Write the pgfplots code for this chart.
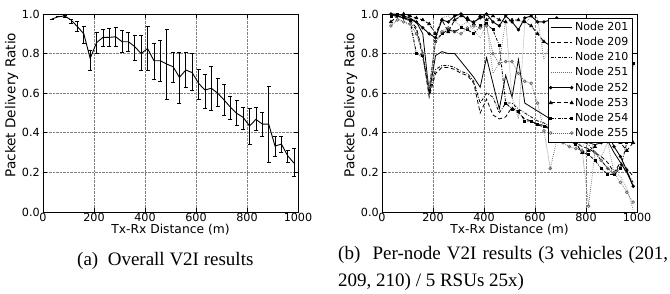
\documentclass[border=0pt]{standalone}
\usepackage{fontspec}
\setmainfont{DejaVu Sans}
\newfontfamily\capfont{Liberation Serif}
\usepackage{pgfplots}
\pgfplotsset{compat=1.18}
\usepackage{pgfplotstable}

\pgfplotstableread{
x y ep em
35 0.975 0 0
60 0.986 0 0
85 0.990 0.005 0.005
110 0.970 0.005 0.020
135 0.936 0.025 0.025
160 0.900 0.036 0.048
185 0.776 0.042 0.059
210 0.855 0.051 0.054
235 0.882 0.040 0.044
260 0.882 0.046 0.044
285 0.885 0.048 0.050
310 0.860 0.056 0.055
335 0.860 0.046 0.050
360 0.835 0.059 0.071
385 0.800 0.094 0.086
410 0.826 0.113 0.112
435 0.764 0.088 0.094
460 0.764 0.105 0.106
485 0.747 0.175 0.178
510 0.734 0.071 0.081
535 0.680 0.125 0.131
560 0.717 0.088 0.087
585 0.704 0.097 0.088
610 0.650 0.070 0.081
635 0.616 0.081 0.092
660 0.625 0.112 0.113
685 0.600 0.075 0.065
710 0.566 0.080 0.076
735 0.529 0.057 0.061
760 0.498 0.068 0.059
785 0.478 0.051 0.061
810 0.434 0.090 0.091
835 0.468 0.061 0.057
860 0.444 0.058 0.060
885 0.444 0.192 0.195
910 0.333 0.051 0.050
935 0.343 0.041 0.043
960 0.283 0.030 0.034
985 0.246 0.076 0.064
}\overall

\pgfplotstableread{
x n201 n209 n210 n251 n252 n253 n254 n255
35 1.00 1.00 1.00 1.00 1.00 0.96 0.99 0.94
60 1.00 0.99 0.99 0.98 0.99 0.99 1.00 0.97
85 0.99 0.98 0.98 0.96 0.98 1.00 0.99 0.96
110 0.98 0.97 0.96 0.94 0.97 0.99 0.97 0.95
135 0.96 0.93 0.92 0.80 0.96 0.98 0.80 0.90
160 0.90 0.80 0.78 0.78 0.93 0.97 0.79 0.80
185 0.60 0.58 0.60 0.62 0.90 0.95 0.62 0.63
210 0.79 0.70 0.72 0.88 0.88 0.90 0.86 0.86
235 0.81 0.73 0.74 0.98 0.97 0.97 0.90 0.91
260 0.80 0.73 0.74 0.99 0.96 0.91 0.92 0.93
285 0.80 0.72 0.73 0.96 0.99 0.97 0.91 0.91
310 0.76 0.70 0.71 0.94 1.00 0.99 0.93 0.90
335 0.72 0.69 0.70 0.96 0.97 0.98 0.92 0.93
360 0.68 0.65 0.66 0.92 0.96 0.95 0.90 0.94
385 0.63 0.50 0.55 0.88 0.98 0.99 0.94 0.93
410 0.78 0.57 0.60 0.95 1.00 0.97 0.95 0.94
435 0.65 0.49 0.58 0.70 0.96 0.99 0.92 0.80
460 0.52 0.47 0.50 0.75 0.94 0.97 0.84 0.75
485 0.69 0.48 0.55 0.97 0.99 0.96 0.55 0.76
510 0.58 0.53 0.55 0.58 0.96 0.97 0.52 0.76
535 0.77 0.50 0.52 0.47 0.92 0.97 0.51 0.70
560 0.55 0.47 0.50 0.95 0.98 0.96 0.46 0.66
585 0.53 0.46 0.48 0.99 0.99 0.94 0.46 0.65
610 0.51 0.44 0.46 0.98 0.96 0.90 0.44 0.55
635 0.49 0.44 0.45 0.77 0.96 0.86 0.43 0.41
660 0.47 0.42 0.43 0.85 0.97 0.84 0.42 0.22
685 0.45 0.40 0.42 0.70 0.98 0.75 0.40 0.36
710 0.43 0.38 0.40 0.60 0.90 0.60 0.38 0.35
735 0.41 0.37 0.38 0.50 0.80 0.45 0.36 0.33
760 0.39 0.35 0.37 0.40 0.65 0.35 0.34 0.32
785 0.37 0.33 0.36 0.32 0.50 0.30 0.30 0.31
810 0.35 0.32 0.34 0.40 0.42 0.31 0.29 0.03
835 0.34 0.30 0.30 0.30 0.36 0.33 0.26 0.30
860 0.35 0.28 0.26 0.28 0.35 0.40 0.22 0.26
885 0.36 0.25 0.22 0.35 0.40 0.45 0.19 0.22
910 0.30 0.20 0.19 0.20 0.33 0.36 0.19 0.20
935 0.25 0.25 0.24 0.18 0.28 0.35 0.22 0.15
960 0.20 0.22 0.20 0.12 0.21 0.31 0.35 0.10
985 0.13 0.18 0.15 0.01 0.13 0.35 0.75 0.05
}\pernode

\pgfplotsset{
  pdrstyle/.style={
    scale only axis, width=255bp, height=198bp,
    xmin=0, xmax=1000, ymin=0, ymax=1,
    xtick={0,200,400,600,800,1000},
    ytick={0,0.2,0.4,0.6,0.8,1.0},
    grid=major,
    grid style={densely dotted, black!50, line width=0.6bp},
    axis line style={line width=0.9bp},
    tick style={line width=0.7bp, black},
    major tick length=4bp,
    tick align=inside,
    /pgf/number format/assume math mode=true,
    tick label style={font=\fontsize{11.2bp}{13bp}\selectfont, inner sep=0pt},
    yticklabel style={/pgf/number format/.cd, fixed, fixed zerofill, precision=1, /tikz/.cd, anchor=east, xshift=-3bp},
    xticklabel style={/pgf/number format/1000 sep={}, anchor=base, yshift=-9.5bp},
    xlabel style={font=\fontsize{12.3bp}{13bp}\selectfont, inner sep=0pt, at={(axis description cs:0.5,-0.111)}, anchor=base},
    ylabel style={font=\fontsize{13.6bp}{15bp}\selectfont, inner sep=0pt, at={(axis description cs:-0.1086,0.54)}, anchor=base},
    xlabel={Tx-Rx Distance (m)},
    ylabel={Packet Delivery Ratio},
  }
}

\begin{document}
\begin{tikzpicture}
\path[use as bounding box] (0,0) rectangle (670bp,294bp);

\begin{axis}[pdrstyle, at={(43bp,82bp)}, anchor=south west]
\addplot[black, line width=0.9bp, mark=none,
  error bars/.cd, y dir=both, y explicit,
  error bar style={line width=0.8bp, black},
  error mark options={rotate=90, mark size=2bp, line width=0.8bp, black}]
  table[x=x, y=y, y error plus=ep, y error minus=em] {\overall};
\end{axis}

\begin{axis}[pdrstyle, at={(382bp,82bp)}, anchor=south west,
  legend style={at={(1,1)}, anchor=north east, xshift=-5bp, yshift=-4bp,
    draw=black, fill=white, font=\fontsize{11bp}{12bp}\selectfont,
    row sep=1.3bp, inner xsep=1.5bp, inner ysep=2bp, cells={anchor=west}},
  legend image code/.code={\draw[#1] plot coordinates {(0bp,0bp) (21bp,0bp)};},
]
\addplot[black, line width=0.8bp, solid, mark=none] table[x=x, y=n201] {\pernode};
\addlegendentry{Node 201}
\addplot[black, line width=0.8bp, dash pattern=on 4bp off 2.5bp, mark=none] table[x=x, y=n209] {\pernode};
\addlegendentry{Node 209}
\addplot[black, line width=0.8bp, dash pattern=on 3bp off 1.5bp on 0.8bp off 1.5bp, mark=none] table[x=x, y=n210] {\pernode};
\addlegendentry{Node 210}
\addplot[black!55, line width=0.6bp, dash pattern=on 0.8bp off 1.2bp, mark=none] table[x=x, y=n251] {\pernode};
\addlegendentry{Node 251}
\addplot[black, line width=0.9bp, solid, mark=*, mark size=1.2bp] table[x=x, y=n252] {\pernode};
\addlegendentry{Node 252}
\addplot[black, line width=0.8bp, dash pattern=on 4bp off 2.5bp, mark=triangle*, mark size=1.6bp, mark options={solid}] table[x=x, y=n253] {\pernode};
\addlegendentry{Node 253}
\addplot[black, line width=0.8bp, dash pattern=on 3bp off 1.5bp on 0.8bp off 1.5bp, mark=square*, mark size=1bp, mark options={solid}] table[x=x, y=n254] {\pernode};
\addlegendentry{Node 254}
\addplot[black!60, line width=0.7bp, dash pattern=on 0.8bp off 1.2bp, mark=o, mark size=1.4bp, mark options={solid}] table[x=x, y=n255] {\pernode};
\addlegendentry{Node 255}
\end{axis}

\node[anchor=base west, inner sep=0pt] at (77bp,29bp)
  {\capfont\fontsize{19bp}{22bp}\selectfont (a)\ \ Overall V2I results};
\node[anchor=base west, inner sep=0pt] at (338bp,35bp)
  {\capfont\fontsize{19bp}{22bp}\selectfont\makebox[330bp][s]{(b)\ \ Per-node V2I results (3 vehicles (201,}};
\node[anchor=base west, inner sep=0pt] at (338bp,8bp)
  {\capfont\fontsize{19bp}{22bp}\selectfont 209, 210) / 5 RSUs 25x)};
\end{tikzpicture}
\end{document}
